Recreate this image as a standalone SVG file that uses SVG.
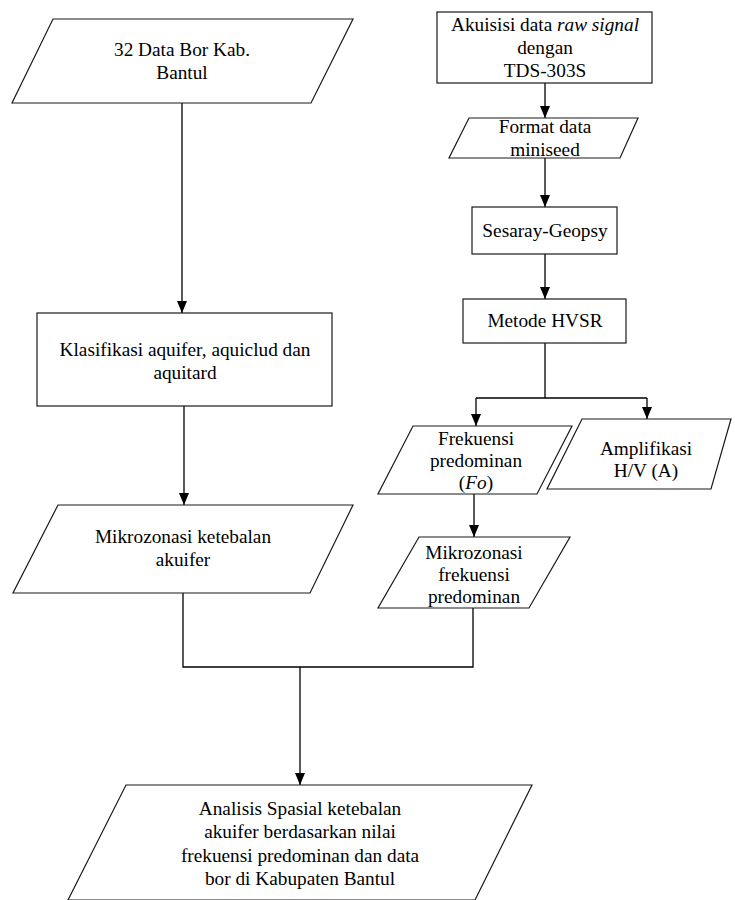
<svg xmlns="http://www.w3.org/2000/svg" width="735" height="900" viewBox="0 0 735 900">
<style>
.s{fill:#fff;stroke:#1a1a1a;stroke-width:1.2}
.c{fill:none;stroke:#000;stroke-width:1.3}
text{font-family:"Liberation Serif","Times New Roman",serif;font-size:19.3px;fill:#000;text-anchor:middle}
</style>
<defs>
<marker id="ah" viewBox="0 0 12 10" refX="12" refY="5" markerWidth="12" markerHeight="10" markerUnits="userSpaceOnUse" orient="auto">
<path d="M0,0 L12,5 L0,10 Z" fill="#000"/>
</marker>
</defs>
<rect width="735" height="900" fill="#fff"/>
<g id="connectors">
<line class="c" x1="182" y1="103" x2="182" y2="313" marker-end="url(#ah)"/>
<line class="c" x1="184" y1="406" x2="184" y2="505" marker-end="url(#ah)"/>
<polyline class="c" points="183,593 183,667 473,667 473,608"/>
<line class="c" x1="300" y1="667" x2="300" y2="785" marker-end="url(#ah)"/>
<line class="c" x1="545" y1="83" x2="545" y2="118" marker-end="url(#ah)"/>
<line class="c" x1="545" y1="158" x2="545" y2="207" marker-end="url(#ah)"/>
<line class="c" x1="545" y1="254" x2="545" y2="299" marker-end="url(#ah)"/>
<line class="c" x1="545" y1="343" x2="545" y2="398"/>
<line class="c" x1="476" y1="398" x2="647" y2="398"/>
<line class="c" x1="476" y1="398" x2="476" y2="426" marker-end="url(#ah)"/>
<line class="c" x1="647" y1="398" x2="647" y2="419" marker-end="url(#ah)"/>
<line class="c" x1="474" y1="494" x2="474" y2="537" marker-end="url(#ah)"/>
</g>
<g id="n_bor">
<polygon class="s" points="53,19 353,19 311,103 12,103"/>
<text x="182" y="56">32 Data Bor Kab.</text>
<text x="182" y="79">Bantul</text>
</g>
<g id="n_klasifikasi">
<rect class="s" x="37" y="313" width="295" height="93"/>
<text x="185" y="356">Klasifikasi aquifer, aquiclud dan</text>
<text x="185" y="379">aquitard</text>
</g>
<g id="n_mikro_ketebalan">
<polygon class="s" points="58,505 353,505 310,593 13,593"/>
<text x="183" y="543">Mikrozonasi ketebalan</text>
<text x="183" y="566">akuifer</text>
</g>
<g id="n_akuisisi">
<rect class="s" x="437" y="12" width="215" height="71"/>
<text x="545" y="31">Akuisisi data <tspan font-style="italic">raw signal</tspan></text>
<text x="545" y="54">dengan</text>
<text x="545" y="77">TDS-303S</text>
</g>
<g id="n_format">
<polygon class="s" points="469,118 638,118 620,158 449,158"/>
<text x="545" y="133">Format data</text>
<text x="545" y="156">miniseed</text>
</g>
<g id="n_sesaray">
<rect class="s" x="472" y="207" width="145" height="47"/>
<text x="545" y="237">Sesaray-Geopsy</text>
</g>
<g id="n_hvsr">
<rect class="s" x="463" y="299" width="163" height="44"/>
<text x="545" y="327">Metode HVSR</text>
</g>
<g id="n_frekuensi">
<polygon class="s" points="413,426 572,426 537,494 378,494"/>
<text x="476" y="445">Frekuensi</text>
<text x="476" y="467">predominan</text>
<text x="476" y="489">(<tspan font-style="italic">Fo</tspan>)</text>
</g>
<g id="n_amplifikasi">
<polygon class="s" points="582,419 731,419 711,489 547,489"/>
<text x="646" y="455">Amplifikasi</text>
<text x="646" y="477">H/V (A)</text>
</g>
<g id="n_mikro_frekuensi">
<polygon class="s" points="419,537 570,537 529,608 378,608"/>
<text x="474" y="559">Mikrozonasi</text>
<text x="474" y="581">frekuensi</text>
<text x="474" y="603">predominan</text>
</g>
<g id="n_analisis">
<polygon class="s" points="126,785 532,785 475,900 68,900"/>
<text x="300" y="815">Analisis Spasial ketebalan</text>
<text x="300" y="838">akuifer berdasarkan nilai</text>
<text x="300" y="862">frekuensi predominan dan data</text>
<text x="300" y="885">bor di Kabupaten Bantul</text>
</g>
</svg>
